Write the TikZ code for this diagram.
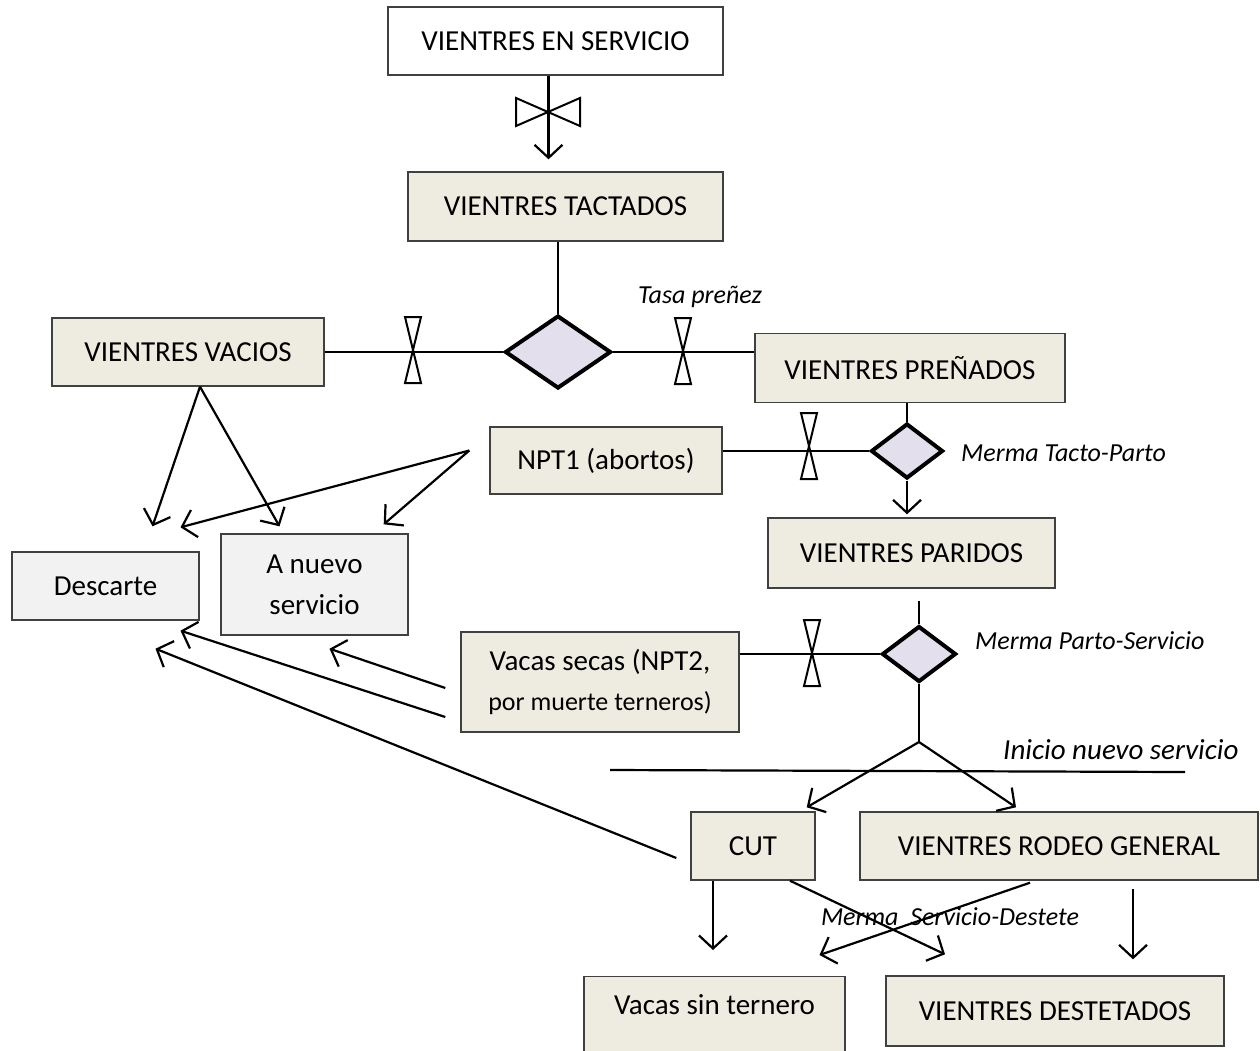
\documentclass[tikz,border=0pt]{standalone}
\usepackage{fontspec}
\setmainfont{Carlito}
\usetikzlibrary{shapes.geometric,arrows.meta}
\definecolor{boxfill}{HTML}{EEECE1}
\definecolor{greyfill}{HTML}{F2F2F2}
\definecolor{gatefill}{HTML}{E4DFEC}
\begin{document}
\begin{tikzpicture}
  [x=1pt,y=-1pt,
   every node/.style={font=\fontsize{29}{35}\selectfont,inner sep=0pt},
   box/.style={draw=black!75,line width=1.4pt,fill=boxfill,minimum height=68pt},
   grey/.style={box,fill=greyfill},
   gate/.style={diamond,draw,line width=4pt,fill=gatefill},
   tag/.style={font=\fontsize{26}{30}\selectfont\itshape},
   flow/.style={line width=2.2pt},
   arr/.style={flow,-{Straight Barb[length=13pt,width=28pt]}},
   valve/.pic={\draw[line width=2pt] (-8,-33) -- (8,-33) -- (-8,33) -- (8,33) -- cycle;},
   hvalve/.pic={\draw[line width=2pt] (-32,-14) -- (-32,14) -- (32,-14) -- (32,14) -- cycle;}]
  \clip (0,0) rectangle (1260,1050);
  \node[box,fill=white,minimum width=335pt] (serv) at (555.5,41) {VIENTRES EN SERVICIO};
  \node[box,minimum width=315pt,minimum height=69pt] (tact) at (565.5,206.5) {VIENTRES TACTADOS};
  \node[box,minimum width=272pt] (vac) at (188,352) {VIENTRES VACIOS};
  \node[gate,minimum width=106pt,minimum height=73pt] (pgate) at (558,352) {};
  \node[box,minimum width=310pt,minimum height=69pt] (pren) at (910,368) {VIENTRES PREÑADOS};
  \node[box,minimum width=232pt,minimum height=67pt] (npt1) at (606,460.5) {NPT1 (abortos)};
  \node[gate,minimum width=72pt,minimum height=55pt] (tpgate) at (907,451) {};
  \node[box,minimum width=287pt,minimum height=70pt] (par) at (911.5,553) {VIENTRES PARIDOS};
  \node[gate,minimum width=74pt,minimum height=56pt] (psgate) at (919,654) {};
  \node[box,minimum width=278pt,minimum height=100pt,align=center] (secas) at (600,682)
    {Vacas secas (NPT2,\\[5pt]{\fontsize{26}{30}\selectfont por muerte terneros)}};
  \node[grey,minimum width=187pt] (desc) at (105.5,586) {Descarte};
  \node[grey,minimum width=187pt,minimum height=101pt,align=center] (nuevo) at (314.5,584.5) {A nuevo\\[6pt]servicio};
  \node[box,minimum width=124pt] (cut) at (753,846) {CUT};
  \node[box,minimum width=398pt] (rodeo) at (1059,846) {VIENTRES RODEO GENERAL};
  \node[box,minimum width=261pt,minimum height=0pt,inner ysep=18pt,text height=20pt,text depth=80pt,anchor=north]
    (sinter) at (714.5,976) {Vacas sin ternero};
  \node[box,minimum width=338pt,minimum height=70pt] (dest) at (1055,1011) {VIENTRES DESTETADOS};
  \node[tag] (tasa) at (700,297) {Tasa preñez};
  \node[tag,anchor=west] (mtp) at (961,453) {Merma Tacto-Parto};
  \node[tag,anchor=west] (mps) at (975,641) {Merma Parto-Servicio};
  \node[tag,font=\fontsize{29}{35}\selectfont\itshape,anchor=west] (inicio) at (1003,750) {Inicio nuevo servicio};
  \node[tag] (msd) at (950,917) {Merma\ \ Servicio-Destete};
  \coordinate (split) at (919,742);
  \coordinate (rule1) at (610,770);
  \coordinate (rule2) at (1185,772);
  \coordinate (vacfork) at ([xshift=12pt]vac.south);
  \coordinate (nptfork) at ([xshift=-20pt,yshift=10pt]npt1.west);
  \draw[arr] ([xshift=-7pt]serv.south) -- ([xshift=-7pt,yshift=12pt]serv.south |- tact.north);
  \pic at (548,112) {hvalve};
  \draw[flow] (pgate.north |- tact.south) -- (pgate.north);
  \draw[flow] (pgate.west) -- (vac.east);
  \draw[flow] (pgate.east) -- (pgate.east -| pren.west);
  \pic at (413,350) {valve};
  \pic at (683,351) {valve};
  \draw[flow] (tpgate.north |- pren.south) -- (tpgate.north);
  \draw[flow] (tpgate.west) -- (tpgate.west -| npt1.east);
  \pic at (809,446) {valve};
  \draw[arr,shorten >=3pt] (tpgate.south) -- (tpgate.south |- par.north);
  \draw[flow,shorten <=12pt] (psgate.north |- par.south) -- (psgate.north);
  \draw[flow] (psgate.west) -- (psgate.west -| secas.east);
  \pic at (812,653) {valve};
  \draw[flow] (psgate.south) -- (split);
  \draw[arr] (split) -- ([xshift=-9pt,yshift=4pt]cut.north east);
  \draw[arr] (split) -- ([xshift=-43pt,yshift=4pt]rodeo.north);
  \draw[flow] (rule1) -- (rule2);
  \draw[arr] (vacfork) -- ([xshift=47pt,yshift=25pt]desc.north);
  \draw[arr] (vacfork) -- ([xshift=-35pt,yshift=7pt]nuevo.north);
  \draw[arr] (nptfork) -- ([xshift=75pt,yshift=24pt]desc.north);
  \draw[arr] (nptfork) -- ([xshift=-25pt,yshift=9pt]nuevo.north east);
  \draw[arr] ([xshift=-15pt,yshift=-6pt]secas.west) -- ([xshift=15pt,yshift=-13pt]nuevo.south);
  \draw[arr] ([xshift=-15pt,yshift=-35pt]secas.west) -- ([xshift=75pt,yshift=-10pt]desc.south);
  \draw[arr] ([xshift=-14pt,yshift=-12pt]cut.west) -- ([xshift=50pt,yshift=-28pt]desc.south);
  \draw[arr] ([xshift=-40pt]cut.south) -- ([xshift=-40pt]cut.south |- sinter.north) [shorten >=26pt];
  \draw[arr] ([xshift=37pt]cut.south) -- ([xshift=-110pt,yshift=21pt]dest.north);
  \draw[arr] ([xshift=-29pt,yshift=-2pt]rodeo.south) -- ([xshift=105pt,yshift=21pt]sinter.north);
  \draw[arr] ([xshift=74pt,yshift=-8pt]rodeo.south) -- ([xshift=78pt,yshift=16pt]dest.north);
\end{tikzpicture}
\end{document}
